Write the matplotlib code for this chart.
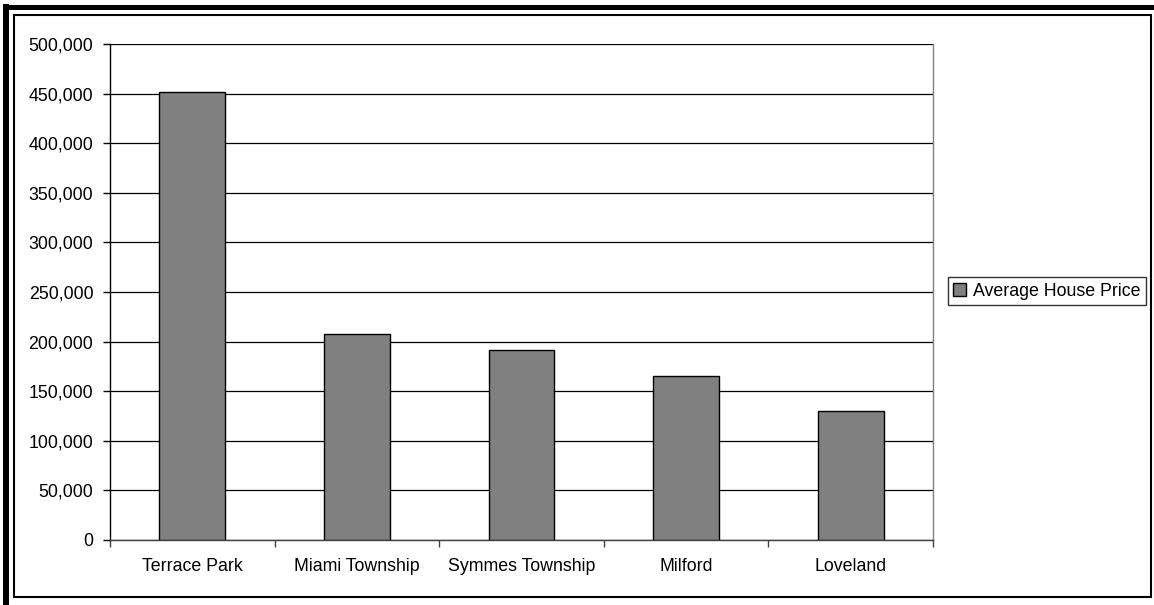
import matplotlib
matplotlib.use("Agg")
import matplotlib.pyplot as plt
from matplotlib.patches import Rectangle
from matplotlib.ticker import FuncFormatter, FixedLocator

towns = ["Terrace Park", "Miami Township", "Symmes Township", "Milford", "Loveland"]
prices = [451500, 207800, 191500, 165300, 130500]
series_name = "Average House Price"

plt.rcParams['font.family'] = ['Liberation Sans', 'DejaVu Sans']

fig = plt.figure(figsize=(11.54, 6.05), dpi=100)
W, H = 1154, 605

# outer frame (thick shadow + thin border)
fig.patches.append(Rectangle((3 / W, 0), 6 / W, 1 - 4 / H, transform=fig.transFigure,
                             facecolor='black', edgecolor='none'))
fig.patches.append(Rectangle((3 / W, 1 - 10 / H), 1, 5 / H, transform=fig.transFigure,
                             facecolor='black', edgecolor='none'))
fig.patches.append(Rectangle((14 / W, 1 - 597 / H), (1151 - 14) / W, (597 - 15) / H,
                             transform=fig.transFigure, facecolor='none',
                             edgecolor='black', linewidth=1.5))

ax = fig.add_axes([110 / W, 1 - 540 / H, (933 - 110) / W, (540 - 44) / H])
x = range(len(towns))
ax.bar(x, prices, width=0.4, color='#808080', edgecolor='black', linewidth=1,
       label=series_name, zorder=3)

ax.set_xlim(-0.5, len(towns) - 0.5)
ax.set_ylim(0, 500000)
ax.set_yticks(range(0, 500001, 50000))
ax.yaxis.set_major_formatter(FuncFormatter(lambda v, p: f"{int(v):,}"))
ax.yaxis.grid(True, color='black', linewidth=0.9, zorder=0)

ax.set_xticks(list(x))
ax.set_xticklabels(towns)
ax.xaxis.set_minor_locator(FixedLocator([i - 0.5 for i in range(len(towns) + 1)]))
ax.tick_params(axis='x', which='major', length=0, pad=13, labelsize=12.8)
ax.tick_params(axis='x', which='minor', length=5, width=1, color='#404040', direction='out')
ax.tick_params(axis='y', length=5, width=1, direction='out', pad=7, labelsize=12.8)

ax.spines['top'].set_visible(False)
ax.spines['right'].set_color('#808080')
ax.spines['bottom'].set_color('#404040')
ax.spines['left'].set_color('black')
for s in ax.spines.values():
    s.set_linewidth(1)

leg = fig.legend(loc='center left', bbox_to_anchor=(948 / W, 1 - 291 / H), fontsize=12.8,
                 frameon=True, fancybox=False, edgecolor='black', handlelength=0.7,
                 handleheight=0.7, handletextpad=0.4, borderpad=0.3, borderaxespad=0)
leg.get_frame().set_linewidth(1)

fig.savefig("out.png", dpi=100)
